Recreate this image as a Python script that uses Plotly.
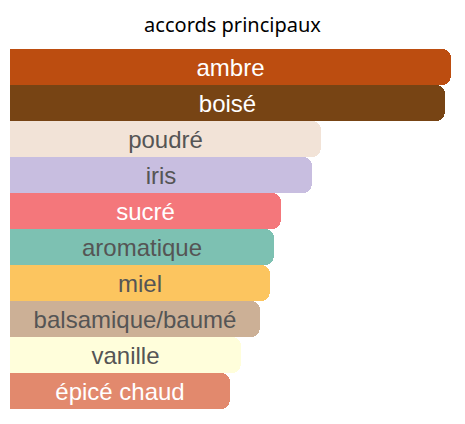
import plotly.graph_objects as go

# accords principaux - barres horizontales arrondies
accords = ["ambre", "boisé", "poudré", "iris", "sucré", "aromatique",
           "miel", "balsamique/baumé", "vanille", "épicé chaud"]
intensite = [100, 98.6, 70.5, 68.5, 61.5, 59.9, 59.0, 56.7, 52.4, 49.9]
couleurs = ["#BC4D10", "#774414", "#F2E3D7", "#C8BEE0", "#F4777B", "#7DC1B2",
            "#FCC55F", "#CCB096", "#FFFEDB", "#E2896D"]
couleurs_texte = ["#FFFFFF", "#FFFFFF", "#555555", "#555555", "#FFFFFF", "#555555",
                  "#555555", "#555555", "#555555", "#FFFFFF"]

fig = go.Figure(
    go.Bar(
        x=intensite,
        y=accords,
        orientation="h",
        marker=dict(color=couleurs, line=dict(width=0)),
        text=accords,
        textposition="inside",
        insidetextanchor="middle",
        textangle=0,
        textfont=dict(family="Liberation Sans, Arial, sans-serif", size=24, color=couleurs_texte),
        hoverinfo="skip",
    )
)

# la page ajoute une marge de 8 px autour du graphique
fig.update_layout(
    width=457,
    height=416,
    title=dict(text="accords principaux", x=0.5, xref="paper", xanchor="center",
               y=0.959, yanchor="middle",
               font=dict(family="Noto Sans, sans-serif", size=20, color="#000000")),
    margin=dict(l=2, r=10, t=41, b=15),
    bargap=0,
    barcornerradius=9,
    plot_bgcolor="white",
    paper_bgcolor="white",
    showlegend=False,
)
fig.update_xaxes(range=[0, 100.9], visible=False, fixedrange=True)
fig.update_yaxes(autorange="reversed", visible=False, fixedrange=True)

fig.write_html("out.html")
